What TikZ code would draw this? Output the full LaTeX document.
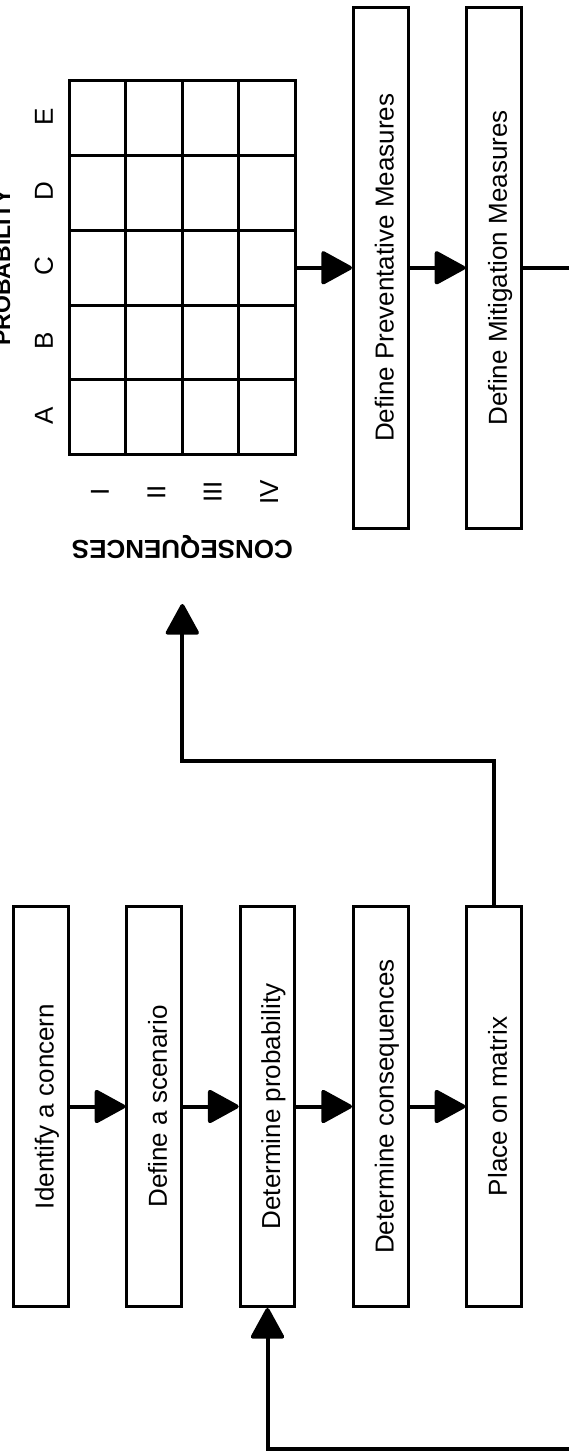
\documentclass[tikz,border=0pt]{standalone}
\usepackage{fontspec}
\setmainfont{Liberation Sans}
\usetikzlibrary{arrows.meta}
\tikzset{
  stepbox/.style={draw,line width=3pt,rotate=90,inner sep=0pt,minimum height=54.6pt,
    text height=25.4pt,text depth=0pt,font=\fontsize{26pt}{30pt}\selectfont},
  flow/.style={line width=4pt,-{Triangle[length=33pt,width=35pt,round]}},
  axislabel/.style={rotate=90,inner sep=0pt,font=\fontsize{26pt}{30pt}\selectfont},
}
\begin{document}
\begin{tikzpicture}[x=1pt,y=-1pt]
    \fill[white] (0,0) rectangle (568,1452);
    \useasboundingbox (0,0) rectangle (568,1452);
    % risk matrix
    \node[draw,line width=3pt,outer sep=0pt,inner sep=0pt,minimum width=225.7pt,minimum height=373.8pt] (matrix) at (182.35,267.8) {};
    \foreach \i in {1,2,3}
        \draw[line width=3pt] ([xshift=\i*56.43pt]matrix.north west) -- ([xshift=\i*56.43pt]matrix.south west);
    \foreach \j in {1,...,4}
        \draw[line width=3pt] ([yshift=-\j*74.76pt]matrix.north west) -- ([yshift=-\j*74.76pt]matrix.north east);
    \foreach \l [count=\i] in {E,D,C,B,A}
        \node[axislabel] (p\l) at (44,42+74.76*\i) {\l};
    \foreach \r [count=\i] in {I,II,III,IV}
        \node[axislabel] (c\i) at (43.5+56.43*\i,492) {\r};
    \node[rotate=180,inner sep=0pt,font=\fontsize{26pt}{30pt}\selectfont\bfseries] (conseq) at (182.35,547.5) {CONSEQUENCES};
    \node[rotate=90,anchor=base,inner sep=0pt,font=\fontsize{23pt}{27pt}\selectfont\bfseries] (problabel) at (10,267.5) {PROBABILITY};
    % measures
    \node[stepbox,minimum width=521.5pt] (preventative) at (380.8,267.8) {Define Preventative Measures};
    \node[stepbox,minimum width=521.5pt] (mitigation) at (494.2,267.8) {Define Mitigation Measures};
    % steps
    \node[stepbox,minimum width=400pt] (concern) at (40.85,1106.5) {Identify a concern};
    \node[stepbox,minimum width=400pt] (scenario) at (154.2,1106.5) {Define a scenario};
    \node[stepbox,minimum width=400pt] (probability) at (267.5,1106.5) {Determine probability};
    \node[stepbox,minimum width=400pt] (consequences) at (380.8,1106.5) {Determine consequences};
    \node[stepbox,minimum width=400pt] (place) at (494.2,1106.5) {Place on matrix};
    \coordinate (exitR) at (580,267.8);
    \coordinate (entryB) at (580,1449);
    \coordinate (bendT) at (182.35,760.7);
    \coordinate (tipT) at (182.35,604);
    \draw[flow] (concern) -- (scenario);
    \draw[flow] (scenario) -- (probability);
    \draw[flow] (probability) -- (consequences);
    \draw[flow] (consequences) -- (place);
    \draw[flow] (place.east) |- (bendT) -- (tipT);
    \draw[flow] (matrix) -- (preventative);
    \draw[flow] (preventative) -- (mitigation);
    \draw[line width=4pt] (mitigation) -- (exitR);
    \draw[flow] (entryB) -| (probability.west);
\end{tikzpicture}
\end{document}
